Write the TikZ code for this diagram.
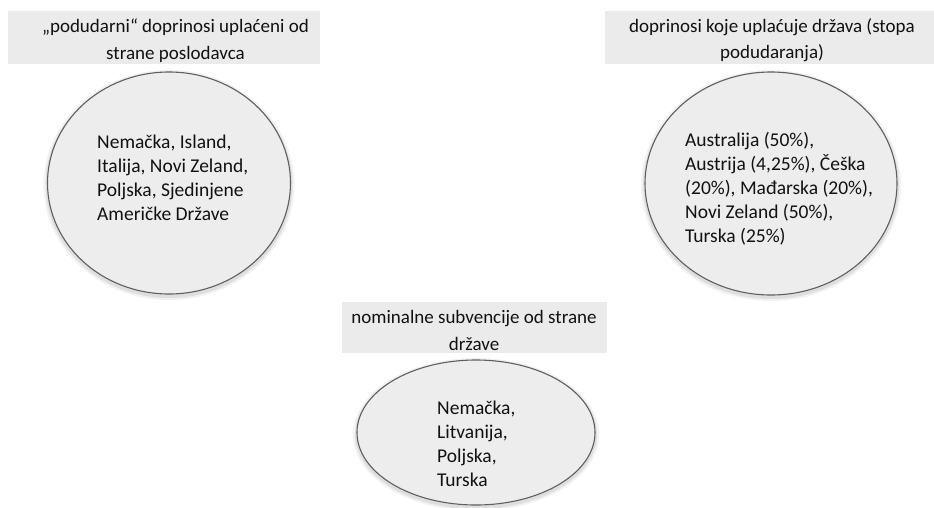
\documentclass[tikz,border=0pt]{standalone}
\usepackage{fontspec}
\setmainfont{Carlito}
\usetikzlibrary{shapes.geometric}
\definecolor{boxgray}{HTML}{EBEBEB}
\definecolor{ellfill}{HTML}{EDEDED}
\definecolor{ellline}{HTML}{5F5F5F}
\definecolor{txt}{HTML}{111111}
\begin{document}
\begin{tikzpicture}[x=1pt,y=-1pt,
  titlebox/.style={fill=boxgray, inner sep=0pt},
  titletext/.style={inner sep=0pt, align=center, font=\fontsize{19}{26.5}\selectfont, text=txt},
  blob/.style={ellipse, draw=ellline, line width=1.1pt, fill=ellfill, inner sep=0pt,
    preaction={draw=black, opacity=0.05, line width=8pt, transform canvas={yshift=-2pt}},
    preaction={draw=black, opacity=0.08, line width=4pt, transform canvas={yshift=-2pt}}},
  listtext/.style={align=left, anchor=west, inner sep=0pt, font=\fontsize{19.5}{24}\selectfont, text=txt}]
\useasboundingbox (0,0) rectangle (934,507);
% title boxes
\node[titlebox, minimum width=312, minimum height=53] (hA) at (164,37.5) {};
\node[titlebox, minimum width=329, minimum height=53] (hB) at (769.5,37.5) {};
\node[titlebox, minimum width=265, minimum height=51] (hC) at (474.5,327.5) {};
\node[titletext] (hAt) at (175.5,40.5) {„podudarni“ doprinosi uplaćeni od\\strane poslodavca};
\node[titletext] (hBt) at (772,40) {doprinosi koje uplaćuje država (stopa\\podudaranja)};
\node[titletext] (hCt) at (474,330.5) {nominalne subvencije od strane\\države};
% ellipses
\node[blob, minimum width=243, minimum height=222] (eA) at (169,183) {};
\node[blob, minimum width=252, minimum height=223] (eB) at (771,183.5) {};
\node[blob, minimum width=238, minimum height=145] (eC) at (476,432.5) {};
% list texts
\node[listtext] (tA) at (97,178) {Nemačka, Island,\\Italija, Novi Zeland,\\Poljska, Sjedinjene\\Američke Države};
\node[listtext] (tB) at (685,188.5) {Australija (50\%),\\Austrija (4,25\%), Češka\\(20\%), Mađarska (20\%),\\Novi Zeland (50\%),\\Turska (25\%)};
\node[listtext] (tC) at (437,443.5) {Nemačka,\\Litvanija,\\Poljska,\\Turska};
\end{tikzpicture}
\end{document}
